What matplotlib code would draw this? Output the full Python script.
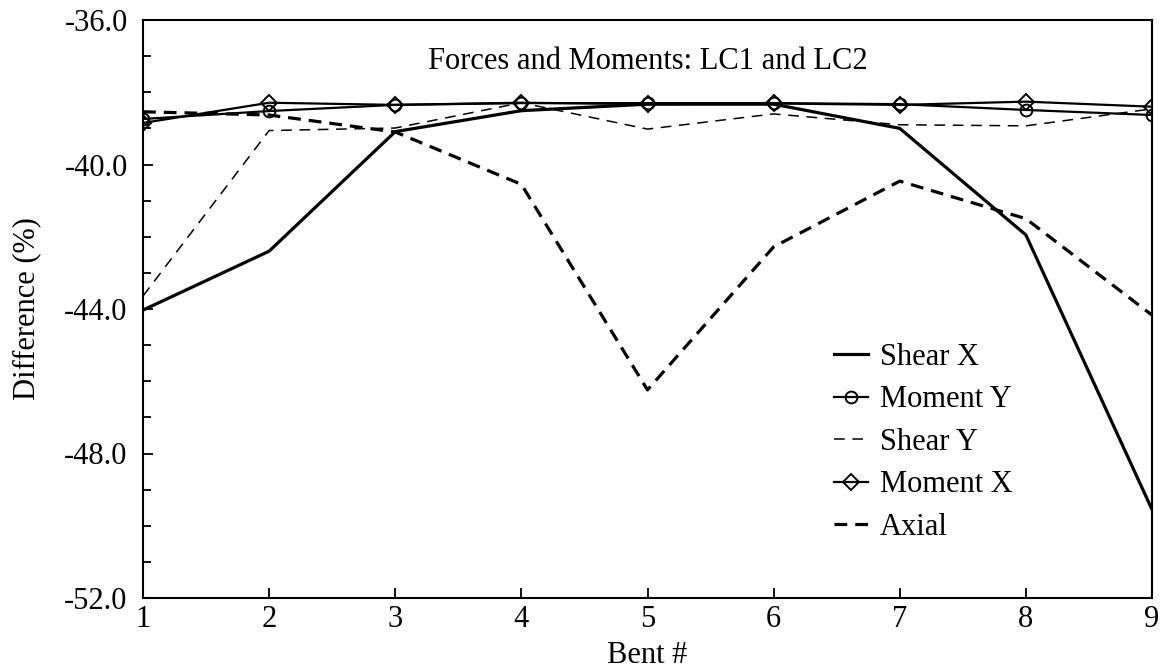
import matplotlib
matplotlib.use("Agg")
import matplotlib.pyplot as plt
from matplotlib.ticker import MultipleLocator, FormatStrFormatter

plt.rcParams['font.family'] = ['Liberation Serif', 'DejaVu Serif']

bents = [1, 2, 3, 4, 5, 6, 7, 8, 9]
shear_x = [-44.03, -42.40, -39.09, -38.51, -38.33, -38.33, -39.00, -41.95, -49.55]
moment_y = [-38.74, -38.52, -38.35, -38.30, -38.30, -38.30, -38.33, -38.49, -38.63]
shear_y = [-43.64, -39.06, -38.99, -38.29, -39.02, -38.60, -38.90, -38.93, -38.46]
moment_x = [-38.85, -38.29, -38.35, -38.29, -38.33, -38.31, -38.35, -38.26, -38.40]
axial = [-38.54, -38.63, -39.10, -40.55, -46.24, -42.28, -40.46, -41.50, -44.17]

title = "Forces and Moments: LC1 and LC2"
xlabel = "Bent #"
ylabel = "Difference (%)"

fig = plt.figure(figsize=(11.64, 6.71), dpi=100)
ax = fig.add_axes([143/1164, 1-598/671, (1152-143)/1164, (598-20)/671])

ax.plot(bents, shear_x, color='black', lw=2.3, ls='-', label='Shear X')
ax.plot(bents, moment_y, color='black', lw=1.6, ls='-', marker='o', ms=8.5,
        mfc='none', mec='black', mew=1.4, label='Moment Y')
ax.plot(bents, shear_y, color='black', lw=1.1, ls=(0, (7, 5)), label='Shear Y')
ax.plot(bents, moment_x, color='black', lw=1.6, ls='-', marker='D', ms=8,
        mfc='none', mec='black', mew=1.4, label='Moment X')
ax.plot(bents, axial, color='black', lw=2.3, ls=(0, (4, 2.5)), label='Axial')

ax.set_xlim(1, 9)
ax.set_ylim(-52, -36)
ax.xaxis.set_major_locator(MultipleLocator(1))
ax.yaxis.set_major_locator(MultipleLocator(4))
ax.yaxis.set_minor_locator(MultipleLocator(1))
ax.yaxis.set_major_formatter(FormatStrFormatter('%.1f'))
ax.tick_params(axis='both', which='both', direction='in', labelsize=22,
               top=False, right=False, width=1.3)
ax.tick_params(axis='y', which='major', length=7, pad=11)
ax.tick_params(axis='y', which='minor', length=6)
ax.tick_params(axis='x', which='major', length=7, pad=5)
for s in ax.spines.values():
    s.set_linewidth(1.5)

ax.set_xlabel(xlabel, fontsize=22, labelpad=5)
ax.set_ylabel(ylabel, fontsize=22, labelpad=17)
ax.text(0.5, 0.929, title, transform=ax.transAxes, ha='center', va='center',
        fontsize=22)

leg = ax.legend(loc='upper left', bbox_to_anchor=(834/1164, 1-343/671),
                bbox_transform=fig.transFigure, frameon=False, fontsize=22,
                handlelength=1.1, handletextpad=0.4, labelspacing=0.44,
                borderpad=0, borderaxespad=0)

fig.savefig('out.png', dpi=100)
